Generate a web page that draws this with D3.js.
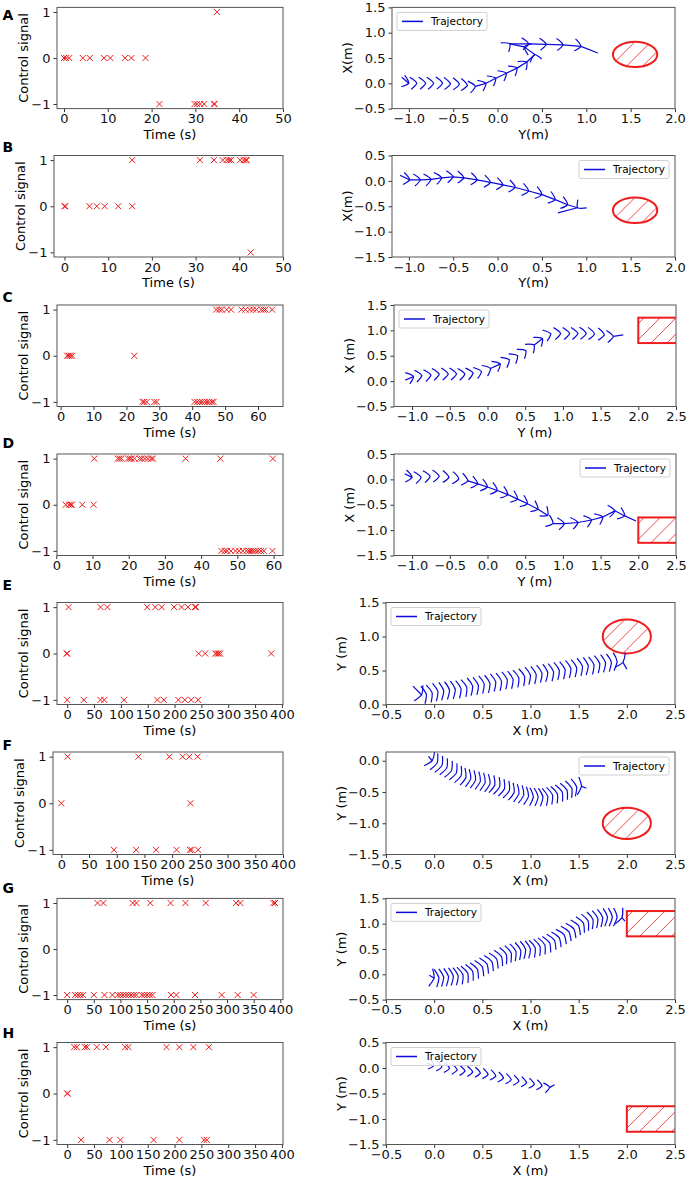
<!DOCTYPE html>
<html><head><meta charset="utf-8">
<script src="https://cdn.jsdelivr.net/npm/d3@7"></script>
<style>
body{margin:0;background:#fff}
text{font-family:"DejaVu Sans",sans-serif}
</style>
</head><body><svg id="c" width="688" height="1185"></svg>
<script>
// ---------------- DATA ----------------
const panelLetters = ["A","B","C","D","E","F","G","H"];

// control signal: times (s) at which the signal was +1, 0, -1
const sigA_up   = [34.9];
const sigA_zero = [0,0.5,1.2,4.3,5.9,9.1,10.6,13.9,15.4,18.6];
const sigA_down = [21.8,29.8,30.4,31.1,32.0,34.2,34.4];

const sigB_up   = [15.5,31.0,34.2,36.2,37.1,37.7,38.1,40.2,41.0,41.5,41.7];
const sigB_zero = [0,0.2,5.7,7.4,9.2,12.3,15.5];
const sigB_down = [42.6];

const sigC_up   = [47.3,48.2,49.0,50.5,51.8,55.0,56.2,57.5,58.5,59.5,61.0,61.7,62.3,64.3];
const sigC_zero = [2.0,2.5,3.0,3.5,22.4];
const sigC_down = [24.9,25.4,26.2,28.5,29.2,40.7,41.5,42.3,43.0,43.8,44.5,45.2,46.0,46.5];

const sigD_up   = [10.5,17.0,17.5,18.0,19.8,20.3,20.8,21.6,23.0,23.6,24.5,25.3,26.2,26.7,35.7,45.3,59.8];
const sigD_zero = [2.6,3.5,4.0,4.3,7.2,10.3];
const sigD_down = [45.6,46.5,47.2,48.2,49.5,50.5,51.5,52.5,53.2,53.8,54.4,55.0,55.7,56.5,57.3,59.7];

const sigE_up   = [2.5,62,75,149,164,176,199,213,225,238,240];
const sigE_zero = [-1,0,245,257,276,279,282,285,380];
const sigE_down = [0,31,62,69,106,168,180,207,219,231,244];

const sigF_up   = [11.5,139,195,219,231,246];
const sigF_zero = [0,233];
const sigF_down = [95,135,171,208,232,235,247];

const sigG_up   = [57,68,123,130,156,194,222,260,317,325,387,390];
const sigG_zero = [];
const sigG_down = [0,15,20,25,30,50,70,85,95,100,105,110,115,120,125,130,140,145,150,155,160,195,205,240,290,320,350];

const sigH_up   = [13,18,33,37,55,72,108,114,185,209,235,264];
const sigH_zero = [0,1];
const sigH_down = [26,79,99,161,209,255,260];

// time-axis tick labels
const timeTicksA = [0,10,20,30,40,50];
const timeTicksC = [0,10,20,30,40,50,60];
const timeTicksE = [0,50,100,150,200,250,300,350,400];
const signalTicks = [-1,0,1];

// trajectories (m): sampled head positions
const trajA = [[-1.08,0.12],[-1.0,0.0],[-0.91,0.0],[-0.81,0.0],[-0.72,0.0],[-0.62,0.0],[-0.53,-0.01],[-0.43,-0.02],[-0.34,-0.04],[-0.25,-0.06],[-0.13,0.0],[-0.02,0.1],[0.1,0.2],[0.22,0.3],[0.33,0.42],[0.42,0.57],[0.3,0.72],[0.14,0.78],[0.35,0.78],[0.55,0.77],[0.74,0.76],[0.94,0.73],[1.13,0.6]];
const trajB = [[-1.1,0.11],[-0.99,0.02],[-0.87,0.02],[-0.75,0.03],[-0.63,0.06],[-0.5,0.08],[-0.38,0.06],[-0.23,0.02],[-0.08,-0.03],[0.06,-0.08],[0.2,-0.13],[0.35,-0.2],[0.5,-0.27],[0.65,-0.37],[0.79,-0.47],[0.9,-0.53],[0.68,-0.63]];
const trajC = [[-1.09,0.02],[-0.98,0.09],[-0.87,0.11],[-0.75,0.12],[-0.64,0.14],[-0.52,0.14],[-0.41,0.14],[-0.3,0.14],[-0.19,0.16],[-0.08,0.19],[0.04,0.25],[0.17,0.34],[0.29,0.42],[0.4,0.5],[0.51,0.6],[0.62,0.71],[0.73,0.84],[0.84,0.93],[0.97,0.94],[1.09,0.94],[1.2,0.94],[1.31,0.94],[1.42,0.93],[1.55,0.91],[1.67,0.88],[1.8,0.91]];
const trajD = [[-1.1,0.11],[-1.0,0.04],[-0.88,0.04],[-0.76,0.06],[-0.64,0.06],[-0.51,0.04],[-0.38,0.01],[-0.26,-0.03],[-0.13,-0.09],[0.0,-0.15],[0.13,-0.22],[0.27,-0.3],[0.4,-0.39],[0.53,-0.48],[0.67,-0.59],[0.8,-0.71],[0.87,-0.87],[1.02,-0.87],[1.2,-0.85],[1.38,-0.8],[1.53,-0.74],[1.69,-0.62],[1.82,-0.72],[1.97,-0.82]];
const trajE = [[-0.22,0.27],[-0.13,0.14],[-0.08,0.15],[-0.02,0.17],[0.04,0.19],[0.1,0.2],[0.16,0.21],[0.22,0.22],[0.28,0.23],[0.34,0.25],[0.4,0.27],[0.46,0.28],[0.52,0.3],[0.58,0.31],[0.64,0.33],[0.7,0.34],[0.76,0.36],[0.82,0.37],[0.88,0.39],[0.94,0.41],[1.0,0.43],[1.06,0.44],[1.12,0.46],[1.18,0.47],[1.24,0.48],[1.3,0.5],[1.36,0.51],[1.42,0.53],[1.48,0.54],[1.54,0.56],[1.6,0.57],[1.66,0.58],[1.72,0.6],[1.78,0.61],[1.84,0.62],[1.9,0.63],[1.96,0.62],[2.0,0.52]];
const trajF = [[-0.06,0.07],[-0.02,0.0],[0.03,-0.04],[0.08,-0.08],[0.13,-0.12],[0.18,-0.16],[0.23,-0.2],[0.28,-0.24],[0.33,-0.27],[0.38,-0.29],[0.43,-0.31],[0.48,-0.33],[0.53,-0.35],[0.58,-0.37],[0.63,-0.39],[0.68,-0.42],[0.73,-0.45],[0.78,-0.48],[0.83,-0.51],[0.88,-0.53],[0.93,-0.55],[0.98,-0.57],[1.03,-0.58],[1.08,-0.58],[1.13,-0.58],[1.18,-0.57],[1.23,-0.55],[1.28,-0.53],[1.33,-0.5],[1.38,-0.47],[1.43,-0.44],[1.48,-0.42],[1.53,-0.41],[1.58,-0.44]];
const trajG = [[-0.05,-0.02],[0.0,-0.08],[0.05,-0.07],[0.1,-0.06],[0.15,-0.05],[0.2,-0.04],[0.25,-0.03],[0.3,-0.01],[0.35,0.02],[0.4,0.06],[0.45,0.1],[0.5,0.15],[0.55,0.2],[0.6,0.25],[0.65,0.3],[0.7,0.35],[0.75,0.39],[0.8,0.42],[0.85,0.45],[0.9,0.47],[0.95,0.49],[1.0,0.5],[1.05,0.52],[1.1,0.55],[1.15,0.58],[1.2,0.62],[1.25,0.67],[1.3,0.72],[1.35,0.78],[1.4,0.84],[1.45,0.9],[1.5,0.96],[1.55,1.01],[1.6,1.05],[1.65,1.08],[1.7,1.1],[1.75,1.12],[1.8,1.13],[1.85,1.13],[1.9,1.13],[1.95,1.12],[1.98,1.05]];
const trajH = [[-0.08,0.1],[0.0,0.05],[0.08,0.02],[0.16,-0.01],[0.24,-0.04],[0.32,-0.06],[0.4,-0.08],[0.48,-0.1],[0.56,-0.13],[0.64,-0.16],[0.72,-0.2],[0.8,-0.23],[0.88,-0.26],[0.96,-0.29],[1.04,-0.32],[1.12,-0.35],[1.2,-0.38],[1.25,-0.33]];

// obstacles: circles [cx, cy, r], rectangles [x0, y0, w, h]
const obstacleKind = ["circle","circle","rect","rect","circle","circle","rect","rect"];
const obstacleA = [1.55,0.57,0.25];
const obstacleB = [1.55,-0.58,0.25];
const obstacleC = [2.0,0.75,0.6,0.5];
const obstacleD = [2.0,-1.25,0.6,0.5];
const obstacleE = [2.0,1.0,0.25];
const obstacleF = [2.0,-1.0,0.25];
const obstacleG = [2.0,0.75,0.6,0.5];
const obstacleH = [2.0,-1.25,0.6,0.5];

// trajectory axis tick labels
const posTicksAB = [-1.0,-0.5,0.0,0.5,1.0,1.5,2.0];
const posTicksCD = [-1.0,-0.5,0.0,0.5,1.0,1.5,2.0,2.5];
const posTicksEH = [-0.5,0.0,0.5,1.0,1.5,2.0,2.5];
const posTicksY15 = [-0.5,0.0,0.5,1.0,1.5];
const posTicksY05 = [-1.5,-1.0,-0.5,0.0,0.5];
const posTicksY0 = [0.0,0.5,1.0,1.5];
const posTicksYF = [-1.5,-1.0,-0.5,0.0];

const xLabelsR = ["Y(m)","Y(m)","Y (m)","Y (m)","X (m)","X (m)","X (m)","X (m)"];
const yLabelsR = ["X(m)","X(m)","X (m)","X (m)","Y (m)","Y (m)","Y (m)","Y (m)"];
const legendText = "Trajectory";

// ---------------- LAYOUT ----------------
const sigUp = [sigA_up,sigB_up,sigC_up,sigD_up,sigE_up,sigF_up,sigG_up,sigH_up];
const sigZero = [sigA_zero,sigB_zero,sigC_zero,sigD_zero,sigE_zero,sigF_zero,sigG_zero,sigH_zero];
const sigDown = [sigA_down,sigB_down,sigC_down,sigD_down,sigE_down,sigF_down,sigG_down,sigH_down];
const trajs = [trajA,trajB,trajC,trajD,trajE,trajF,trajG,trajH];
const obstacles = [obstacleA,obstacleB,obstacleC,obstacleD,obstacleE,obstacleF,obstacleG,obstacleH];
const timeTicks = [timeTicksA,timeTicksA,timeTicksC,timeTicksC,timeTicksE,timeTicksE,timeTicksE,timeTicksE];
const timeDomain = [[-1.6,50],[-2.4,50],[-1.1,67.6],[0.2,62.6],[-19,402],[-15,400],[-19,405],[-19,402]];
const posTicksX = [posTicksAB,posTicksAB,posTicksCD,posTicksCD,posTicksEH,posTicksEH,posTicksEH,posTicksEH];
const posTicksY = [posTicksY15,posTicksY05,posTicksY15,posTicksY05,posTicksY0,posTicksYF,posTicksY15,posTicksY05];
const xDomR = [[-1.19,2],[-1.19,2],[-1.24,2.5],[-1.24,2.5],[-0.5,2.5],[-0.5,2.5],[-0.5,2.5],[-0.5,2.5]];
const yDomR = [[-0.5,1.5],[-1.5,0.5],[-0.5,1.5],[-1.5,0.5],[0,1.5],[-1.5,0.14],[-0.5,1.5],[-1.5,0.5]];

const rowTop = [7.4,155.5,305,454,602.5,752,898.4,1042.5];
const rowBot = [108.6,257,406.5,555.5,704.5,854.5,999.6,1144.5];
const leftX0 = [57,54,57,57,57,53,57,57];
const leftX1 = 283;
const rightX0 = [392,392,394,394,386,386,386,386];
const rightX1 = [675,675,676,676,675,675,675,675];
const letterY = [20,151.5,301.5,448,590,750,893,1038];
const legendRight = [false,true,false,true,false,true,false,false];
const hookH = [6,6,6,6,9,9,9,5];
const hookK = [7,7,7,7,4,4,4,6];
const hatchGap = 16;

const RED = "#ee1c1c", BLUE = "#0b0bd8", SPINE = "#555";

const svg = d3.select("#c");
const defs = svg.append("defs");

function styleAxis(sel){
  sel.select(".domain").remove();
  sel.selectAll(".tick line").attr("stroke","#333");
  sel.selectAll(".tick text").attr("font-size",13).attr("fill","#111")
    .attr("font-family","DejaVu Sans, sans-serif");
}

const fmtInt = d3.format("d");
const fmt1 = d3.format(".1f");

for (let i = 0; i < 8; i++) {
  const top = rowTop[i], bot = rowBot[i];

  // ---- panel letter
  svg.append("text").attr("x",2.5).attr("y",letterY[i]).attr("font-size",14)
    .attr("font-weight","bold").text(panelLetters[i]);

  // ---- left panel: control signal
  const gl = svg.append("g");
  const xl = d3.scaleLinear().domain(timeDomain[i]).range([leftX0[i], leftX1]);
  const yl = d3.scaleLinear().domain([-1.1,1.1]).range([bot, top]);
  gl.append("g").attr("transform",`translate(0,${bot})`)
    .call(d3.axisBottom(xl).tickValues(timeTicks[i]).tickSize(3.5).tickPadding(2).tickFormat(fmtInt))
    .call(styleAxis);
  gl.append("g").attr("transform",`translate(${leftX0[i]},0)`)
    .call(d3.axisLeft(yl).tickValues(signalTicks).tickSize(3.5).tickPadding(3).tickFormat(fmtInt))
    .call(styleAxis);
  const pts = [];
  sigUp[i].forEach(t => pts.push([t,1]));
  sigZero[i].forEach(t => pts.push([t,0]));
  sigDown[i].forEach(t => pts.push([t,-1]));
  gl.selectAll("path.mk").data(pts).join("path").attr("class","mk")
    .attr("transform",d => `translate(${xl(d[0])},${yl(d[1])})`)
    .attr("d","M-3,-3L3,3M-3,3L3,-3").attr("stroke",RED).attr("stroke-width",1).attr("fill","none");
  gl.append("rect").attr("x",leftX0[i]).attr("y",top).attr("width",leftX1-leftX0[i]).attr("height",bot-top)
    .attr("fill","none").attr("stroke",SPINE).attr("stroke-width",1);
  gl.append("text").attr("x",(leftX0[i]+leftX1)/2).attr("y",bot+30).attr("text-anchor","middle")
    .attr("font-size",13).text("Time (s)");
  gl.append("text").attr("transform",`translate(${leftX0[i]-29},${(top+bot)/2}) rotate(-90)`)
    .attr("text-anchor","middle").attr("font-size",13).text("Control signal");

  // ---- right panel: trajectory
  const x0 = rightX0[i], x1 = rightX1[i];
  const gr = svg.append("g");
  const xr = d3.scaleLinear().domain(xDomR[i]).range([x0, x1]);
  const yr = d3.scaleLinear().domain(yDomR[i]).range([bot, top]);
  const cid = "clip"+i;
  defs.append("clipPath").attr("id",cid).append("rect")
    .attr("x",x0).attr("y",top).attr("width",x1-x0).attr("height",bot-top);
  gr.append("g").attr("transform",`translate(0,${bot})`)
    .call(d3.axisBottom(xr).tickValues(posTicksX[i]).tickSize(3.5).tickPadding(2).tickFormat(fmt1))
    .call(styleAxis);
  gr.append("g").attr("transform",`translate(${x0},0)`)
    .call(d3.axisLeft(yr).tickValues(posTicksY[i]).tickSize(3.5).tickPadding(3).tickFormat(fmt1))
    .call(styleAxis);

  const gc = gr.append("g").attr("clip-path",`url(#${cid})`);
  // obstacle with "/" hatching (lines clipped to the shape)
  const ob = obstacles[i];
  const oid = "obs"+i;
  const oclip = defs.append("clipPath").attr("id",oid);
  let bx, by, bw, bh, shape;
  if (obstacleKind[i] === "circle") {
    const cx = xr(ob[0]), cy = yr(ob[1]);
    const rx = Math.abs(xr(ob[0]+ob[2]) - cx);
    const ry = Math.abs(yr(ob[1]+ob[2]) - cy);
    oclip.append("ellipse").attr("cx",cx).attr("cy",cy).attr("rx",rx).attr("ry",ry);
    bx = cx-rx; by = cy-ry; bw = 2*rx; bh = 2*ry;
    shape = gc.append("ellipse").attr("cx",cx).attr("cy",cy).attr("rx",rx).attr("ry",ry);
  } else {
    bx = xr(ob[0]); by = yr(ob[1]+ob[3]);
    bw = xr(ob[0]+ob[2]) - bx; bh = yr(ob[1]) - by;
    oclip.append("rect").attr("x",bx).attr("y",by).attr("width",bw).attr("height",bh);
    shape = gc.append("rect").attr("x",bx).attr("y",by).attr("width",bw).attr("height",bh);
  }
  const hg = gc.append("g").attr("clip-path",`url(#${oid})`);
  for (let c = bx - bh + 6; c < bx + bw; c += hatchGap) {
    hg.append("line").attr("x1",c).attr("y1",by+bh).attr("x2",c+bh).attr("y2",by)
      .attr("stroke",RED).attr("stroke-width",0.8);
  }
  shape.attr("fill","none").attr("stroke",RED).attr("stroke-width",2);
  shape.raise();

  // trajectory: connecting strokes where samples are far apart (start/end tails, fast turns)
  const tr = trajs[i];
  const seg = d3.line().x(d => xr(d[0])).y(d => yr(d[1]));
  for (let j = 0; j < tr.length-1; j++) {
    const a = tr[j], b = tr[j+1];
    const dist = Math.hypot(xr(b[0])-xr(a[0]), yr(b[1])-yr(a[1]));
    if (j === 0 || j === tr.length-2 || dist > 10) {
      gc.append("path").attr("d",seg([a,b])).attr("fill","none").attr("stroke",BLUE).attr("stroke-width",1.2);
    }
  }
  // oscillation hooks
  const h = hookH[i], k = hookK[i];
  const glyph = `M${-k},${-h} Q${-k*0.15},${-h*0.4} 0,0 Q${-k*0.15},${h*0.4} ${-k*0.8},${h}`;
  const hooks = tr.slice(1, tr.length-1).map((d,j) => {
    const a = tr[j], b = tr[j+2];
    const ang = Math.atan2(yr(b[1])-yr(a[1]), xr(b[0])-xr(a[0])) * 180/Math.PI;
    return {x: xr(d[0]), y: yr(d[1]), ang};
  });
  gc.selectAll("path.hk").data(hooks).join("path").attr("class","hk")
    .attr("transform",d => `translate(${d.x},${d.y}) rotate(${d.ang})`)
    .attr("d",glyph).attr("fill","none").attr("stroke",BLUE).attr("stroke-width",1.2);

  gr.append("rect").attr("x",x0).attr("y",top).attr("width",x1-x0).attr("height",bot-top)
    .attr("fill","none").attr("stroke",SPINE).attr("stroke-width",1);

  // legend
  const lw = 90, lh = 18;
  const lx = legendRight[i] ? x1 - 6 - lw : x0 + 5;
  const ly = top + 5;
  const lg = gr.append("g");
  lg.append("rect").attr("x",lx).attr("y",ly).attr("width",lw).attr("height",lh).attr("rx",2)
    .attr("fill","#fff").attr("fill-opacity",0.85).attr("stroke","#d0d0d0").attr("stroke-width",1);
  lg.append("line").attr("x1",lx+5).attr("x2",lx+26).attr("y1",ly+lh/2).attr("y2",ly+lh/2)
    .attr("stroke",BLUE).attr("stroke-width",1.5);
  lg.append("text").attr("x",lx+34).attr("y",ly+lh/2+3.6).attr("font-size",10.5).text(legendText);

  // axis labels
  gr.append("text").attr("x",(x0+x1)/2).attr("y",bot+30).attr("text-anchor","middle")
    .attr("font-size",13).text(xLabelsR[i]);
  gr.append("text").attr("transform",`translate(${x0-40},${(top+bot)/2}) rotate(-90)`)
    .attr("text-anchor","middle").attr("font-size",13).text(yLabelsR[i]);
}
</script>
</body></html>
